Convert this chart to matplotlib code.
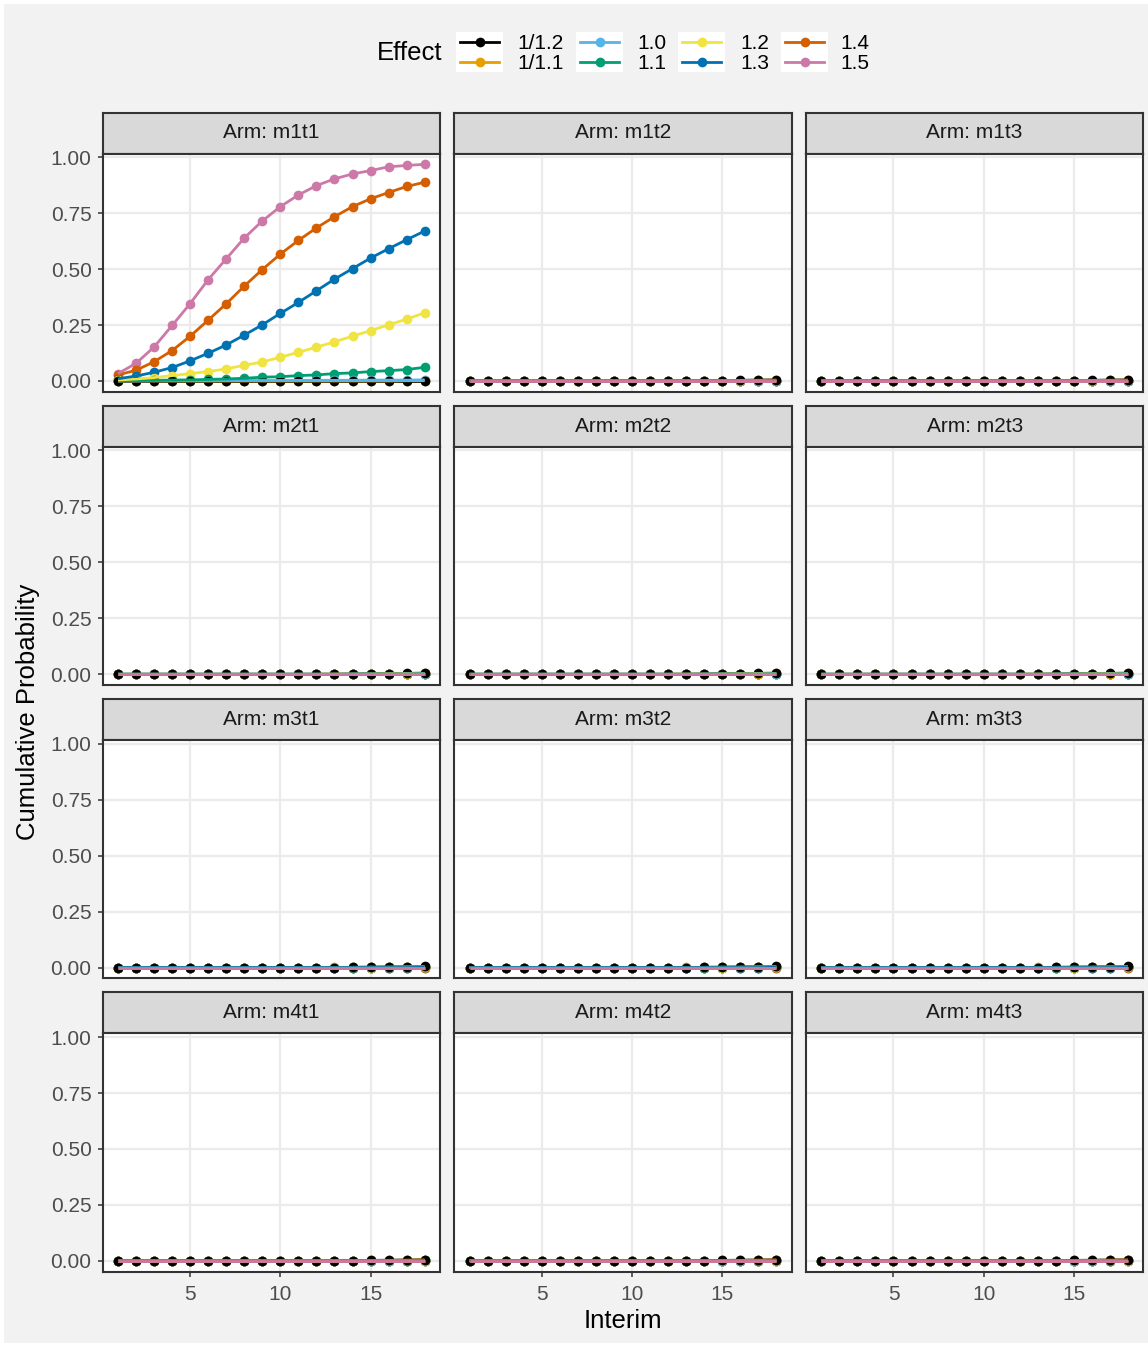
import matplotlib
matplotlib.use("Agg")
import matplotlib.pyplot as plt
from matplotlib.patches import Rectangle
from matplotlib.lines import Line2D

plt.rcParams['font.family'] = ['Liberation Sans', 'DejaVu Sans']

# ---- data -------------------------------------------------------------
interim = list(range(1, 19))

effects = ["1/1.2", "1/1.1", "1.0", "1.1", "1.2", "1.3", "1.4", "1.5"]
colors = ["#000000", "#E69F00", "#56B4E9", "#009E73",
          "#F0E442", "#0072B2", "#D55E00", "#CC79A7"]

arms = ["m1t1", "m1t2", "m1t3",
        "m2t1", "m2t2", "m2t3",
        "m3t1", "m3t2", "m3t3",
        "m4t1", "m4t2", "m4t3"]

# cumulative probability per effect for arm m1t1
m1t1 = {
    "1/1.2": [0.000, 0.000, 0.000, 0.000, 0.000, 0.000, 0.000, 0.000, 0.000,
              0.000, 0.000, 0.000, 0.000, 0.000, 0.000, 0.000, 0.000, 0.000],
    "1/1.1": [0.000, 0.000, 0.000, 0.000, 0.000, 0.000, 0.000, 0.000, 0.000,
              0.000, 0.000, 0.000, 0.000, 0.000, 0.000, 0.000, 0.001, 0.001],
    "1.0":   [0.000, 0.000, 0.001, 0.001, 0.001, 0.001, 0.002, 0.002, 0.002,
              0.002, 0.003, 0.003, 0.003, 0.003, 0.004, 0.004, 0.004, 0.005],
    "1.1":   [0.001, 0.002, 0.003, 0.004, 0.005, 0.007, 0.009, 0.012, 0.017,
              0.019, 0.024, 0.027, 0.033, 0.036, 0.042, 0.046, 0.051, 0.061],
    "1.2":   [0.004, 0.009, 0.015, 0.024, 0.033, 0.042, 0.054, 0.070, 0.085,
              0.106, 0.128, 0.151, 0.175, 0.200, 0.225, 0.251, 0.276, 0.305],
    "1.3":   [0.010, 0.022, 0.039, 0.060, 0.090, 0.124, 0.161, 0.205, 0.251,
              0.302, 0.351, 0.403, 0.455, 0.502, 0.549, 0.591, 0.631, 0.670],
    "1.4":   [0.027, 0.048, 0.086, 0.136, 0.200, 0.272, 0.345, 0.424, 0.498,
              0.567, 0.628, 0.684, 0.734, 0.779, 0.814, 0.842, 0.869, 0.888],
    "1.5":   [0.033, 0.079, 0.152, 0.248, 0.346, 0.453, 0.546, 0.639, 0.715,
              0.779, 0.831, 0.873, 0.903, 0.925, 0.940, 0.957, 0.963, 0.968],
}

# the remaining arms stay close to zero for every effect
other_arm = {
    "1/1.2": [0.000, 0.000, 0.000, 0.000, 0.000, 0.000, 0.000, 0.000, 0.000,
              0.000, 0.000, 0.000, 0.000, 0.001, 0.002, 0.003, 0.004, 0.005],
    "1/1.1": [0.000, 0.000, 0.000, 0.000, 0.000, 0.000, 0.000, 0.000, 0.000,
              0.000, 0.000, 0.000, 0.001, 0.001, 0.002, 0.002, 0.003, 0.004],
    "1.0":   [0.000, 0.000, 0.000, 0.000, 0.000, 0.000, 0.000, 0.000, 0.000,
              0.000, 0.000, 0.000, 0.000, 0.001, 0.001, 0.001, 0.002, 0.002],
    "1.1":   [0.000, 0.000, 0.000, 0.000, 0.000, 0.000, 0.000, 0.000, 0.000,
              0.000, 0.000, 0.000, 0.000, 0.000, 0.001, 0.001, 0.001, 0.002],
    "1.2":   [0.000, 0.000, 0.000, 0.000, 0.000, 0.000, 0.000, 0.000, 0.000,
              0.000, 0.000, 0.000, 0.000, 0.000, 0.000, 0.001, 0.001, 0.001],
    "1.3":   [0.000, 0.000, 0.000, 0.000, 0.000, 0.000, 0.000, 0.000, 0.000,
              0.000, 0.000, 0.000, 0.000, 0.000, 0.000, 0.000, 0.000, 0.001],
    "1.4":   [0.000, 0.000, 0.000, 0.000, 0.000, 0.000, 0.000, 0.000, 0.000,
              0.000, 0.000, 0.000, 0.000, 0.000, 0.000, 0.000, 0.000, 0.000],
    "1.5":   [0.000, 0.000, 0.000, 0.000, 0.000, 0.000, 0.000, 0.000, 0.000,
              0.000, 0.000, 0.000, 0.000, 0.000, 0.000, 0.000, 0.000, 0.000],
}

arm_data = {arm: (m1t1 if arm == "m1t1" else other_arm) for arm in arms}

# ---- layout (pixels) ------------------------------------------------------
W, H = 1148, 1345
fig = plt.figure(figsize=(W / 100, H / 100), dpi=100)
fig.patch.set_facecolor("white")

# full-figure overlay in pixel coordinates for background / legend
bg = fig.add_axes([0, 0, 1, 1], zorder=-10)
bg.set_xlim(0, W)
bg.set_ylim(H, 0)
bg.axis("off")
bg.add_patch(Rectangle((4, 4), W - 4, H - 6, facecolor="#F2F2F2", edgecolor="none"))

col_left = [102.7, 454.3, 806.0]
panel_w = 337.3
strip_top0 = 112.5
strip_h = 41.0
panel_h = 238.3
row_pitch = 293.3

ymax = max(max(v) for d in arm_data.values() for v in d.values())
ylo, yhi = -0.05 * ymax, ymax * 1.05
xlo, xhi = interim[0] - 0.05 * (interim[-1] - interim[0]), interim[-1] + 0.05 * (interim[-1] - interim[0])

def fig_rect(x, y_top, w, h):
    return [x / W, 1 - (y_top + h) / H, w / W, h / H]

for i, arm in enumerate(arms):
    r, c = divmod(i, 3)
    strip_top = strip_top0 + r * row_pitch
    panel_top = strip_top + strip_h

    # facet strip
    st = fig.add_axes(fig_rect(col_left[c], strip_top, panel_w, strip_h))
    st.set_facecolor("#D9D9D9")
    st.set_xticks([])
    st.set_yticks([])
    for s in st.spines.values():
        s.set_color("#333333")
        s.set_linewidth(1.5)
    st.text(0.5, 0.5, f"Arm: {arm}", ha="center", va="center",
            fontsize=15, color="#1A1A1A", transform=st.transAxes)

    ax = fig.add_axes(fig_rect(col_left[c], panel_top, panel_w, panel_h))
    ax.set_facecolor("white")
    data = arm_data[arm]
    for k, eff in enumerate(effects):
        ax.plot(interim, data[eff], color=colors[k], lw=2.0, zorder=3,
                solid_capstyle="butt")
    for k in reversed(range(len(effects))):
        eff = effects[k]
        ax.plot(interim, data[eff], linestyle="none", marker="o",
                markersize=7, color=colors[k], markeredgewidth=0, zorder=2)

    ax.set_xlim(xlo, xhi)
    ax.set_ylim(ylo, yhi)
    ax.set_xticks([5, 10, 15])
    ax.set_yticks([0, 0.25, 0.5, 0.75, 1.0])
    ax.grid(True, color="#EBEBEB", lw=1.6, zorder=0)
    ax.set_axisbelow(True)
    for s in ax.spines.values():
        s.set_color("#333333")
        s.set_linewidth(1.5)
        s.set_zorder(5)
    ax.tick_params(direction="out", length=3.5, width=1.1, color="#333333",
                   labelcolor="#4D4D4D", labelsize=15)
    ax.tick_params(axis="y", pad=4.5)
    ax.tick_params(axis="x", pad=6)
    if c == 0:
        ax.set_yticklabels(["0.00", "0.25", "0.50", "0.75", "1.00"])
    else:
        ax.tick_params(axis="y", left=False, labelleft=False)
    if r == 3:
        ax.set_xticklabels(["5", "10", "15"])
    else:
        ax.tick_params(axis="x", bottom=False, labelbottom=False)

# axis titles
bg.text(28, 712, "Cumulative Probability", rotation=90, ha="center",
        va="center", fontsize=18.5, color="black")
bg.text(622.5, 1321, "Interim", ha="center", va="center", fontsize=18.5,
        color="black")

# legend
bg.text(442, 53, "Effect", ha="right", va="center", fontsize=18.5, color="black")
key_left = [456, 576, 678, 781]
label_left = [517, 637, 740, 840]
row_y = [42, 62]
for k, eff in enumerate(effects):
    col, row = divmod(k, 2)
    if row == 0:
        bg.add_patch(Rectangle((key_left[col], 32), 47, 40,
                               facecolor="white", edgecolor="none"))
    y = row_y[row]
    bg.add_line(Line2D([key_left[col] + 4, key_left[col] + 43], [y, y],
                       color=colors[k], lw=2.0))
    bg.add_line(Line2D([key_left[col] + 23.5], [y], marker="o", markersize=7,
                       markeredgewidth=0, color=colors[k]))
    bg.text(label_left[col], y + 1.5, eff, ha="left", va="center",
            fontsize=15, color="black")

fig.savefig("out.png", dpi=100)
